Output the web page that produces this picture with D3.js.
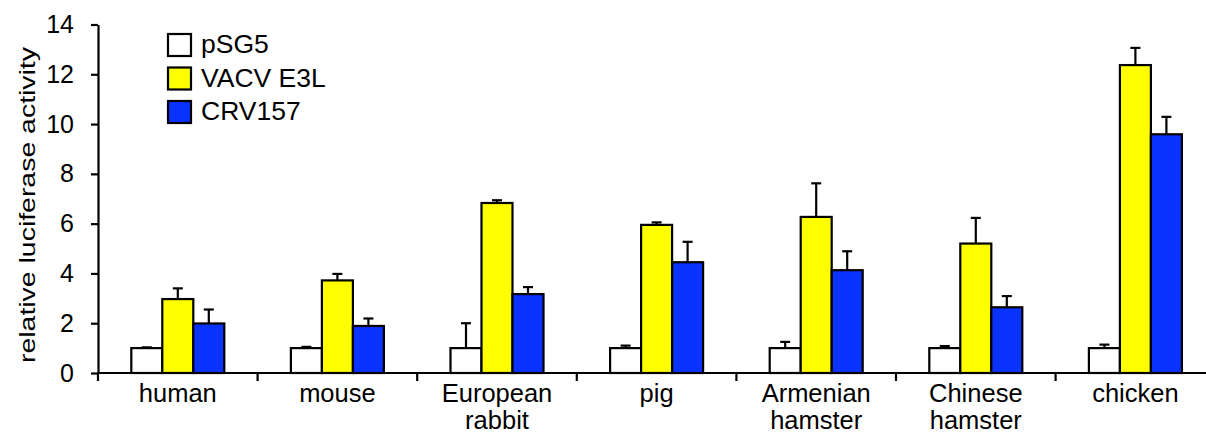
<!DOCTYPE html>
<html>
<head>
<meta charset="utf-8">
<script src="https://cdn.jsdelivr.net/npm/d3@7"></script>
<style>
    body { margin: 0; background: #fff; }
    text { font-family: "Liberation Sans", Arial, sans-serif; fill: #000; }
</style>
</head>
<body>
<div id="chart"></div>
<script>
// data
const categories = [["human"], ["mouse"], ["European", "rabbit"], ["pig"], ["Armenian", "hamster"], ["Chinese", "hamster"], ["chicken"]];
const series = ["pSG5", "VACV E3L", "CRV157"];
const colors = ["#ffffff", "#ffff00", "#0a33ff"];

const pSG5 = [1.0, 1.0, 1.0, 1.0, 1.0, 1.0, 1.0];
const pSG5Err = [0.03, 0.05, 1.0, 0.10, 0.25, 0.08, 0.14];
const e3l = [2.97, 3.72, 6.83, 5.95, 6.27, 5.2, 12.37];
const e3lErr = [0.43, 0.26, 0.11, 0.10, 1.35, 1.03, 0.69];
const crv157 = [1.99, 1.89, 3.17, 4.45, 4.13, 2.64, 9.59];
const crv157Err = [0.56, 0.30, 0.28, 0.82, 0.76, 0.45, 0.70];

const yTicks = [0, 2, 4, 6, 8, 10, 12, 14];

const values = [pSG5, e3l, crv157];
const errors = [pSG5Err, e3lErr, crv157Err];

const width = 1206, height = 432;

const svg = d3.select("#chart").append("svg")
    .attr("width", width)
    .attr("height", height);

// scales
const x = d3.scaleBand()
    .domain(categories.map(d => d.join(" ")))
    .range([98, 98 + 7 * 159.6]);

const xInner = d3.scaleBand()
    .domain(series)
    .range([0, 93]);

const y = d3.scaleLinear()
    .domain([0, 14])
    .range([373, 24.5]);

// flat list of bars
let bars = [];
categories.forEach((c, i) => {
    series.forEach((s, j) => {
        bars.push({cat: c.join(" "), s: s, j: j, v: values[j][i], e: errors[j][i]});
    });
});

const groupX = d => x(d.cat) + x.bandwidth() / 2 - 46.5 + xInner(d.s);

// error bars (drawn first so the bar outline sits on top)
const errG = svg.append("g")
    .attr("stroke", "#000")
    .attr("stroke-width", 2.2);

errG.selectAll(".err-line")
    .data(bars)
    .enter()
    .append("line")
    .attr("x1", d => groupX(d) + xInner.bandwidth() / 2)
    .attr("x2", d => groupX(d) + xInner.bandwidth() / 2)
    .attr("y1", d => y(d.v))
    .attr("y2", d => y(d.v + d.e));

errG.selectAll(".err-cap")
    .data(bars)
    .enter()
    .append("line")
    .attr("x1", d => groupX(d) + xInner.bandwidth() / 2 - 5)
    .attr("x2", d => groupX(d) + xInner.bandwidth() / 2 + 5)
    .attr("y1", d => y(d.v + d.e))
    .attr("y2", d => y(d.v + d.e));

// bars
svg.append("g")
    .selectAll("rect")
    .data(bars)
    .enter()
    .append("rect")
    .attr("x", d => groupX(d))
    .attr("y", d => y(d.v))
    .attr("width", xInner.bandwidth())
    .attr("height", d => y(0) - y(d.v))
    .attr("fill", d => colors[d.j])
    .attr("stroke", "#000")
    .attr("stroke-width", 2.2);

// y axis
const yAxis = svg.append("g")
    .attr("transform", "translate(98,0)")
    .call(d3.axisLeft(y).tickValues(yTicks).tickSize(7).tickSizeOuter(0).tickPadding(17));
yAxis.select(".domain").attr("stroke-width", 2.2);
yAxis.selectAll(".tick line").attr("stroke-width", 2.2);
yAxis.selectAll(".tick text")
    .style("font-size", "25px")
    .style("font-family", "'Liberation Sans', Arial, sans-serif");

// x axis: line + ticks on the category boundaries
svg.append("line")
    .attr("x1", 97)
    .attr("x2", width)
    .attr("y1", y(0))
    .attr("y2", y(0))
    .attr("stroke", "#000")
    .attr("stroke-width", 2.2);

svg.append("g")
    .selectAll("line")
    .data(categories)
    .enter()
    .append("line")
    .attr("x1", d => x(d.join(" ")))
    .attr("x2", d => x(d.join(" ")))
    .attr("y1", y(0))
    .attr("y2", y(0) + 8)
    .attr("stroke", "#000")
    .attr("stroke-width", 2.2);

const xLabels = svg.append("g")
    .selectAll("text")
    .data(categories)
    .enter()
    .append("text")
    .attr("text-anchor", "middle")
    .style("font-size", "25.5px");

xLabels.selectAll("tspan")
    .data(d => d.map(t => ({t: t, cat: d.join(" ")})))
    .enter()
    .append("tspan")
    .attr("x", d => x(d.cat) + x.bandwidth() / 2)
    .attr("y", (d, i) => 402 + i * 27)
    .text(d => d.t);

// y title
svg.append("text")
    .attr("transform", "translate(35,205) rotate(-90)")
    .attr("text-anchor", "middle")
    .attr("textLength", 316)
    .attr("lengthAdjust", "spacingAndGlyphs")
    .style("font-size", "22px")
    .text("relative luciferase activity");

// legend
const legend = svg.append("g")
    .selectAll("g")
    .data(series)
    .enter()
    .append("g")
    .attr("transform", (d, i) => `translate(168, ${34 + i * 33.5})`);

legend.append("rect")
    .attr("width", 23)
    .attr("height", 22)
    .attr("fill", (d, i) => colors[i])
    .attr("stroke", "#000")
    .attr("stroke-width", 2.2);

legend.append("text")
    .attr("x", 33)
    .attr("y", 19)
    .style("font-size", "26.5px")
    .text(d => d);
</script>
</body>
</html>
